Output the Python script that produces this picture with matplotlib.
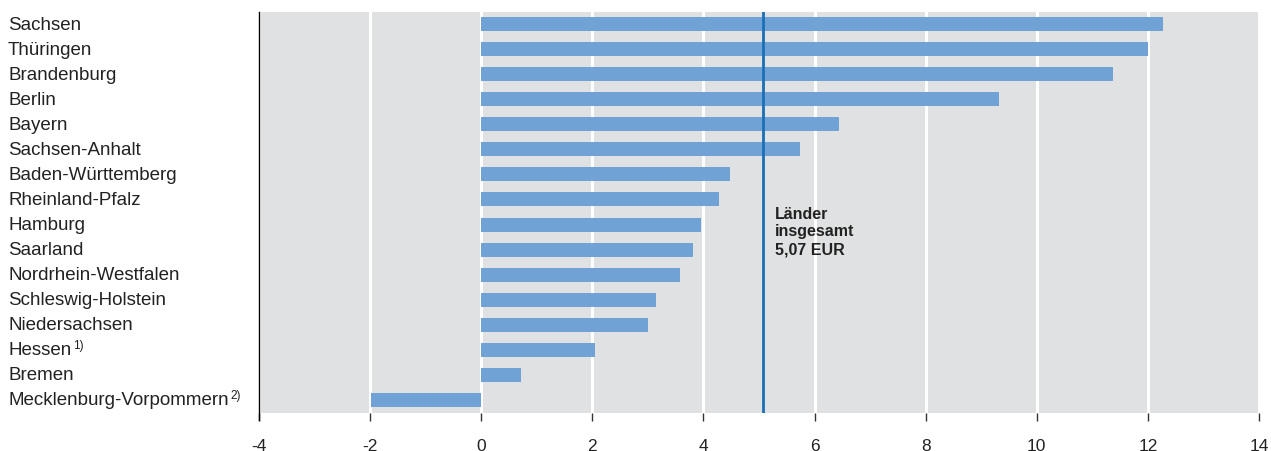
import matplotlib
matplotlib.use('Agg')
import matplotlib.pyplot as plt
import matplotlib.transforms as mtrans

plt.rcParams['font.family'] = 'Liberation Sans'

# data
laender = ['Sachsen', 'Thüringen', 'Brandenburg', 'Berlin', 'Bayern',
           'Sachsen-Anhalt', 'Baden-Württemberg', 'Rheinland-Pfalz', 'Hamburg',
           'Saarland', 'Nordrhein-Westfalen', 'Schleswig-Holstein',
           'Niedersachsen', 'Hessen', 'Bremen', 'Mecklenburg-Vorpommern']
notes = ['', '', '', '', '', '', '', '', '', '', '', '', '', '1)', '', '2)']
werte = [12.27, 12.0, 11.37, 9.32, 6.44, 5.74, 4.48, 4.28, 3.96, 3.81,
         3.58, 3.15, 3.0, 2.05, 0.72, -1.98]
insgesamt = 5.07
xticks = [-4, -2, 0, 2, 4, 6, 8, 10, 12, 14]

fig = plt.figure(figsize=(12.71, 4.52), dpi=100)
ax = fig.add_axes([259/1271, 1 - 414/452, 1000/1271, 401/452])
ax.set_facecolor('#e0e1e2')

pos = list(range(len(laender)))
ax.barh(pos, werte, height=0.56, color='#70a2d5', zorder=3)
ax.axvline(insgesamt, color='#1a6fb5', lw=2, zorder=4)
ax.text(insgesamt + 0.22, 7.25, 'Länder\ninsgesamt\n5,07 EUR', fontsize=11.5,
        fontweight='bold', color='#222222', va='top', ha='left',
        linespacing=1.22, zorder=5)

ax.set_xlim(-4, 14)
ax.set_ylim(15.52, -0.48)
ax.set_xticks(xticks)
ax.set_xticklabels([str(t) for t in xticks], fontsize=12.5, color='#222222')
ax.grid(axis='x', color='white', lw=2.2, zorder=1)
ax.set_axisbelow(True)
ax.tick_params(axis='x', length=5.8, width=1, color='#333333', pad=12.5)
ax.set_yticks([])
for s in ['top', 'right', 'bottom']:
    ax.spines[s].set_visible(False)
ax.spines['left'].set_color('black')
ax.spines['left'].set_linewidth(1)
ax.spines['left'].set_bounds(15.8, -0.48)

# country labels at left edge of figure
tr = mtrans.blended_transform_factory(fig.transFigure, ax.transData)
for i, (name, n) in enumerate(zip(laender, notes)):
    t = ax.text(8/1271, i, name, transform=tr, fontsize=13.5, color='#222222',
                va='center', ha='left', clip_on=False)
    if n:
        ax.annotate(n, xy=(1, 1), xycoords=t, xytext=(1.5, 1.5),
                    textcoords='offset points', fontsize=8.5, color='#222222',
                    va='top', ha='left', annotation_clip=False)

fig.savefig('out.png', dpi=100)
